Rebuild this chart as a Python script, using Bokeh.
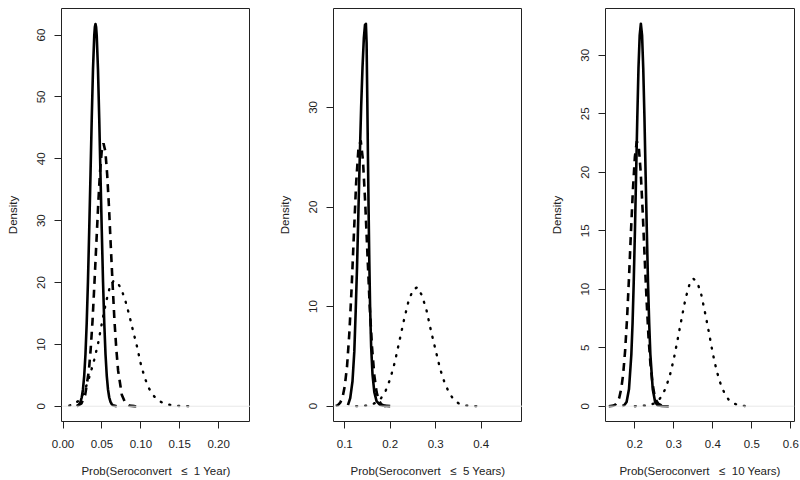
from bokeh.plotting import figure
from bokeh.models import Range1d, FixedTicker, NumeralTickFormatter, Span
from bokeh.layouts import row
from bokeh.embed import file_html
from bokeh.resources import INLINE

# ---------------- data ----------------
# Panel 1: Prob(Seroconvert <= 1 Year)
p1_solid_x = [.0175, .0191, .0207, .0224, .0240, .0256, .0272, .0288, .0304, .0320, .0336, .0353, .0369,
              .0385, .0401, .0409, .0417, .0425, .0433, .0449, .0465, .0481, .0498, .0514, .0530, .0546,
              .0562, .0578, .0594, .0610, .0627, .0643, .0690]
p1_solid_y = [.02, .14, .32, .69, 1.41, 2.71, 4.92, 8.36, 13.4, 20.1, 28.3, 37.5, 46.6,
              54.5, 59.9, 61.3, 61.8, 61.3, 59.9, 54.5, 46.6, 37.5, 28.3, 20.1, 13.4, 8.36,
              4.92, 2.71, 1.41, .69, .32, .14, .01]
p1_dash_x = [.0180, .0238, .0285, .0332, .0355, .0379, .0402, .0426, .0450, .0473, .0497, .0520, .0544,
             .0567, .0591, .0614, .0638, .0661, .0685, .0708, .0755, .0802, .0849, .0920, .1000]
p1_dash_y = [.02, .47, 1.87, 5.75, 9.2, 13.8, 19.5, 25.8, 32.1, 37.5, 41.2, 42.5, 41.2,
             37.5, 32.1, 25.8, 19.5, 13.8, 9.2, 5.75, 1.87, .47, .09, .01, 0]
p1_dot_x = [.008, .014, .020, .025, .030, .035, .040, .045, .050, .055, .060, .065, .070, .075, .080,
            .085, .090, .095, .100, .105, .110, .115, .120, .125, .130, .140, .150, .160, .168]
p1_dot_y = [.1, .3, .9, 1.8, 3.3, 5.2, 7.5, 10.1, 13.5, 16.7, 19.2, 20.3, 20.0, 18.9, 17.1,
            14.8, 12.2, 9.7, 6.8, 4.6, 3.0, 1.9, 1.2, .75, .45, .13, .04, .01, 0]

# Panel 2: Prob(Seroconvert <= 5 Years)
p2_solid_x = [.107, .112, .117, .121, .124, .127, .130, .133, .136, .139, .142, .1445, .1465, .148,
              .1495, .151, .1525, .154, .1557, .158, .161, .165, .170, .177, .185, .200]
p2_solid_y = [.1, .8, 2.5, 5.5, 9.5, 14, 19.5, 25, 30, 34, 37, 38.3, 38.4, 36.5,
              31, 25, 19.5, 14.5, 10, 6, 3.2, 1.4, .5, .15, .05, 0]
p2_dash_x = [.080, .085, .090, .095, .100, .105, .110, .115, .120, .125, .130, .135, .140, .145,
             .150, .155, .160, .165, .170, .175, .180, .185, .190]
p2_dash_y = [.03, .1, .35, .87, 2.0, 4.0, 7.3, 11.8, 17.2, 22.4, 25.8, 26.7, 24.7, 20.4,
             15.1, 9.9, 5.9, 3.1, 1.4, .6, .2, .07, 0]
p2_dot_x = [.125, .145, .160, .170, .180, .190, .200, .210, .220, .230, .240, .250, .260, .270,
            .280, .290, .300, .310, .320, .330, .340, .350, .365, .385, .405]
p2_dot_y = [0, .04, .17, .39, .81, 1.56, 2.74, 4.4, 6.5, 8.6, 10.5, 11.7, 11.95, 11.1,
            9.6, 7.5, 5.6, 3.7, 2.3, 1.3, .65, .3, .06, .01, 0]

# Panel 3: Prob(Seroconvert <= 10 Years)
p3_solid_x = [.168, .1727, .1788, .1849, .191, .1941, .1971, .2002, .2032, .2063, .2093, .2124, .2154,
              .2185, .2215, .2246, .2276, .2307, .2337, .2368, .2398, .2459, .2520, .2581, .270, .287]
p3_solid_y = [.02, .07, .36, 1.44, 4.42, 7.07, 10.6, 15.0, 19.8, 24.7, 28.9, 31.7, 32.7,
              31.7, 28.9, 24.7, 19.8, 15.0, 10.6, 7.07, 4.42, 1.44, .36, .07, .02, 0]
p3_dash_x = [.133, .145, .150, .155, .160, .165, .170, .175, .180, .185, .190, .195, .200, .205,
             .210, .215, .220, .225, .230, .235, .240, .245, .250, .255, .260, .270, .280]
p3_dash_y = [0, .05, .14, .33, .72, 1.47, 2.72, 4.73, 7.5, 11.0, 14.9, 18.5, 21.3, 22.65,
             22.2, 20.0, 16.7, 12.8, 9.1, 5.9, 3.6, 2.0, 1.02, .49, .21, .03, 0]
p3_dot_x = [.200, .230, .250, .260, .270, .280, .290, .300, .310, .320, .330, .340, .350, .360,
            .370, .380, .390, .400, .410, .420, .430, .440, .450, .465, .486]
p3_dot_y = [0, .04, .23, .48, .9, 1.63, 2.66, 4.05, 5.75, 7.5, 9.2, 10.4, 10.9, 10.6,
            9.6, 8.0, 6.3, 4.5, 3.0, 1.9, 1.1, .58, .29, .09, 0]

p1_xticks = [0, 0.05, 0.10, 0.15, 0.20]
p2_xticks = [0.1, 0.2, 0.3, 0.4]
p3_xticks = [0.2, 0.3, 0.4, 0.5, 0.6]
p1_yticks = [0, 10, 20, 30, 40, 50, 60]
p2_yticks = [0, 10, 20, 30]
p3_yticks = [0, 5, 10, 15, 20, 25, 30]

NB = "\u00a0"
p1_xlabel = "Prob(Seroconvert" + NB * 3 + "\u2264" + NB * 2 + "1 Year)"
p2_xlabel = "Prob(Seroconvert" + NB * 3 + "\u2264" + NB * 2 + "5 Years)"
p3_xlabel = "Prob(Seroconvert" + NB * 3 + "\u2264" + NB * 2 + "10 Years)"
ylabel = "Density"

FONT = "Liberation Sans"


def panel(width, bl, br, xr, yr, xticks, yticks, xfmt, xlabel, solid, dash, dot):
    p = figure(width=width, height=480, x_range=Range1d(*xr), y_range=Range1d(*yr),
               output_backend="svg", toolbar_location=None,
               min_border_left=bl, min_border_right=br, min_border_top=8, min_border_bottom=59)
    p.grid.visible = False
    p.background_fill_color = "white"
    p.border_fill_color = "white"
    p.outline_line_color = "#222222"
    p.outline_line_width = 1
    p.outline_line_alpha = 1

    p.add_layout(Span(location=0, dimension="width", line_color="#e8e8e8", line_width=1))

    p.line(solid[0], solid[1], line_color="black", line_width=2.6, line_join="round")
    p.line(dash[0], dash[1], line_color="black", line_width=2.6, line_dash="8 6")
    p.line(dot[0], dot[1], line_color="black", line_width=2.4, line_dash="1 8", line_cap="round")

    p.xaxis.ticker = FixedTicker(ticks=xticks)
    p.yaxis.ticker = FixedTicker(ticks=yticks)
    p.xaxis.formatter = NumeralTickFormatter(format=xfmt)
    p.yaxis.formatter = NumeralTickFormatter(format="0")
    p.yaxis.major_label_orientation = "vertical"
    p.xaxis.axis_label = xlabel
    p.yaxis.axis_label = ylabel
    for ax in (p.xaxis[0], p.yaxis[0]):
        ax.axis_line_color = None
        ax.major_tick_line_color = "#222222"
        ax.major_tick_line_width = 1
        ax.major_tick_out = 7
        ax.major_tick_in = 0
        ax.minor_tick_line_color = None
        ax.major_label_text_font = FONT
        ax.major_label_text_font_size = "11.5px"
        ax.major_label_text_color = "#222222"
        ax.axis_label_text_font = FONT
        ax.axis_label_text_font_size = "11.5px"
        ax.axis_label_text_font_style = "normal"
        ax.axis_label_text_color = "#222222"
    p.xaxis.major_label_standoff = 11
    p.xaxis.axis_label_standoff = 14
    p.yaxis.major_label_standoff = 9
    p.yaxis.axis_label_standoff = 16
    return p


f1 = panel(250, 61, 0, (-0.002, 0.241), (-2.47, 64.3), p1_xticks, p1_yticks, "0.00", p1_xlabel,
           (p1_solid_x, p1_solid_y), (p1_dash_x, p1_dash_y), (p1_dot_x, p1_dot_y))
f2 = panel(272, 83, 0, (0.0752, 0.491), (-1.54, 39.94), p2_xticks, p2_yticks, "0.0", p2_xlabel,
           (p2_solid_x, p2_solid_y), (p2_dash_x, p2_dash_y), (p2_dot_x, p2_dot_y))
f3 = panel(278, 83, 6, (0.1247, 0.6095), (-1.31, 34.0), p3_xticks, p3_yticks, "0.0", p3_xlabel,
           (p3_solid_x, p3_solid_y), (p3_dash_x, p3_dash_y), (p3_dot_x, p3_dot_y))

layout = row(f1, f2, f3)
open("out.html", "w").write(file_html(layout, INLINE))
